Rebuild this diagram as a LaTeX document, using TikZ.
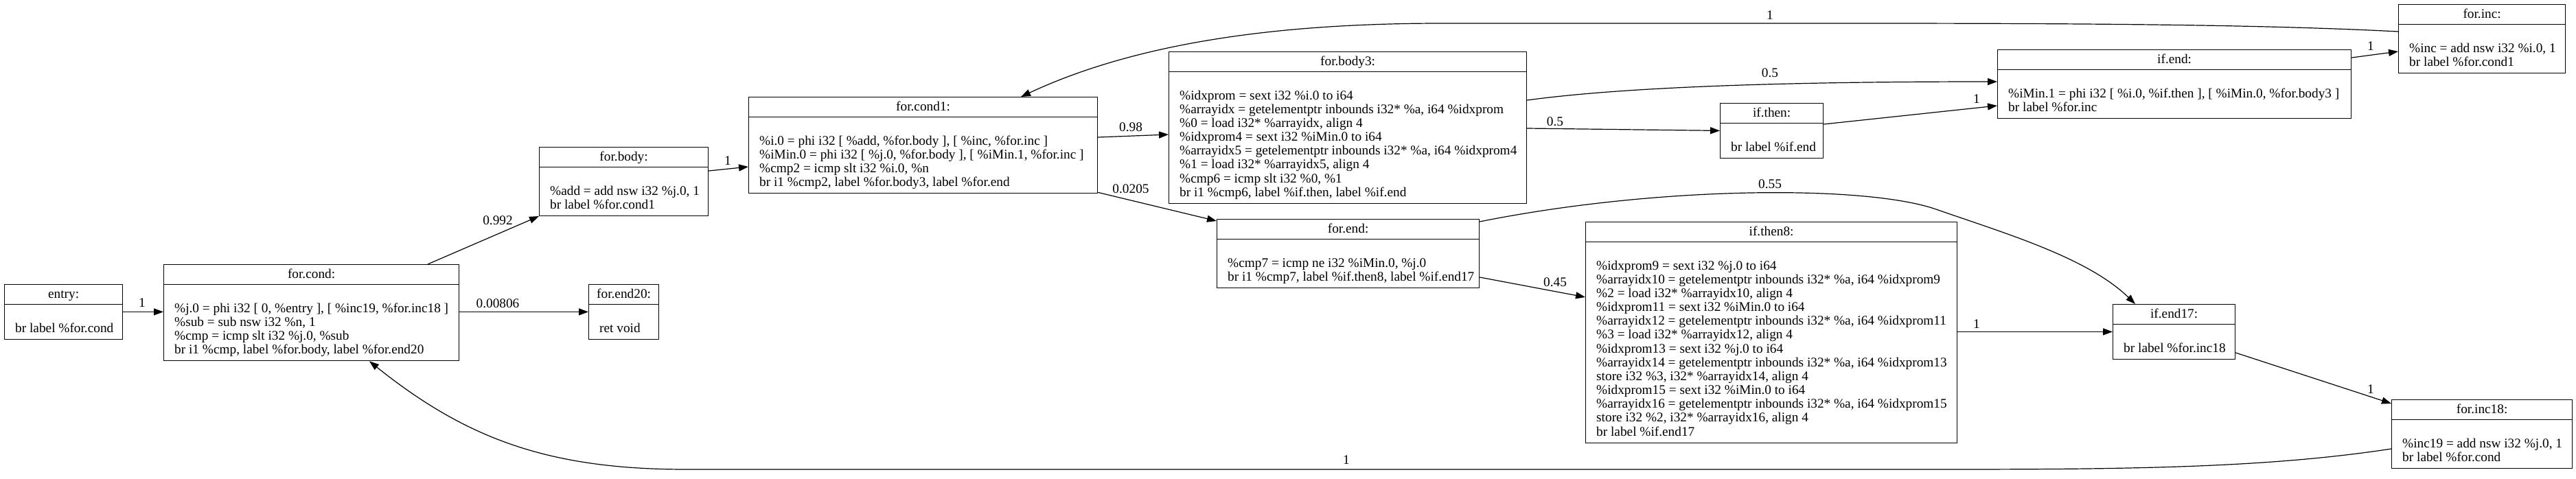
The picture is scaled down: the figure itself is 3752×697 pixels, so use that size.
\documentclass[tikz,border=0pt]{standalone}
\usepackage{fontspec}
\setmainfont{Liberation Serif}
\usetikzlibrary{arrows.meta,calc}
\newcommand\gvstrut{\vrule height 15.2pt depth 4.96pt width 0pt}
\newcommand\gvnl{\\\gvstrut}
\tikzset{
  gvfont/.style={font=\fontsize{19.3}{20.16}\selectfont},
  rec/.style={draw, line width=1.2pt, inner sep=0pt, anchor=north west},
  recline/.style={line width=1.2pt},
  hdr/.style={gvfont, inner sep=0pt, anchor=center},
  bodytxt/.style={gvfont, inner sep=0pt, anchor=north west, align=left},
  lbl/.style={gvfont, inner sep=0pt, anchor=center},
  edge/.style={line width=1.2pt, -{Triangle[length=14pt,width=10pt]}}
}
\newcommand\gvrec[7]{%
  \pgfmathsetmacro\gvh{29.76+(#5*16.8+8)*1.2}%
  \node[rec, minimum width=#4pt, minimum height=\gvh pt] (#1) at (#2,#3) {};
  \draw[recline] ($(#1.north west)+(0,29.76)$) -- ($(#1.north east)+(0,29.76)$);
  \node[hdr] at ($(#1.north)+(0,14.88)$) {\gvstrut #6};
  \node[bodytxt] at ($(#1.north west)+(16,54.72)$) {#7};
}
\begin{document}
\begin{tikzpicture}[x=1pt,y=-1pt]
\fill[white] (0,0) rectangle (3752,697);
\useasboundingbox (0,0) rectangle (3752,697);

\gvrec{entry}{6}{414}{172}{2}{entry:}{\gvstrut br label \%for.cond}
\gvrec{fcond}{238}{385}{430}{5}{for.cond:}{\gvstrut \%j.0 = phi i32 [ 0, \%entry ], [ \%inc19, \%for.inc18 ]\gvnl \%sub = sub nsw i32 \%n, 1\gvnl \%cmp = icmp slt i32 \%j.0, \%sub\gvnl br i1 \%cmp, label \%for.body, label \%for.end20}
\gvrec{fend20}{857}{414}{102}{2}{for.end20:}{\gvstrut ret void}
\gvrec{fbody}{785}{214}{246}{3}{for.body:}{\gvstrut \%add = add nsw i32 \%j.0, 1\gvnl br label \%for.cond1}
\gvrec{fcond1}{1090}{141}{508}{5}{for.cond1:}{\gvstrut \%i.0 = phi i32 [ \%add, \%for.body ], [ \%inc, \%for.inc ]\gvnl \%iMin.0 = phi i32 [ \%j.0, \%for.body ], [ \%iMin.1, \%for.inc ]\gvnl \%cmp2 = icmp slt i32 \%i.0, \%n\gvnl br i1 \%cmp2, label \%for.body3, label \%for.end}
\gvrec{fbody3}{1702}{75}{521}{9}{for.body3:}{\gvstrut \%idxprom = sext i32 \%i.0 to i64\gvnl \%arrayidx = getelementptr inbounds i32* \%a, i64 \%idxprom\gvnl \%0 = load i32* \%arrayidx, align 4\gvnl \%idxprom4 = sext i32 \%iMin.0 to i64\gvnl \%arrayidx5 = getelementptr inbounds i32* \%a, i64 \%idxprom4\gvnl \%1 = load i32* \%arrayidx5, align 4\gvnl \%cmp6 = icmp slt i32 \%0, \%1\gvnl br i1 \%cmp6, label \%if.then, label \%if.end}
\gvrec{ifthen}{2505}{150}{150}{2}{if.then:}{\gvstrut br label \%if.end}
\gvrec{ifend}{2909}{72}{515}{3}{if.end:}{\gvstrut \%iMin.1 = phi i32 [ \%i.0, \%if.then ], [ \%iMin.0, \%for.body3 ]\gvnl br label \%for.inc}
\gvrec{finc}{3493}{6}{243}{3}{for.inc:}{\gvstrut \%inc = add nsw i32 \%i.0, 1\gvnl br label \%for.cond1}
\gvrec{fend}{1772}{319}{382}{3}{for.end:}{\gvstrut \%cmp7 = icmp ne i32 \%iMin.0, \%j.0\gvnl br i1 \%cmp7, label \%if.then8, label \%if.end17}
\gvrec{ifthen8}{2309}{323}{541}{14}{if.then8:}{\gvstrut \%idxprom9 = sext i32 \%j.0 to i64\gvnl \%arrayidx10 = getelementptr inbounds i32* \%a, i64 \%idxprom9\gvnl \%2 = load i32* \%arrayidx10, align 4\gvnl \%idxprom11 = sext i32 \%iMin.0 to i64\gvnl \%arrayidx12 = getelementptr inbounds i32* \%a, i64 \%idxprom11\gvnl \%3 = load i32* \%arrayidx12, align 4\gvnl \%idxprom13 = sext i32 \%j.0 to i64\gvnl \%arrayidx14 = getelementptr inbounds i32* \%a, i64 \%idxprom13\gvnl store i32 \%3, i32* \%arrayidx14, align 4\gvnl \%idxprom15 = sext i32 \%iMin.0 to i64\gvnl \%arrayidx16 = getelementptr inbounds i32* \%a, i64 \%idxprom15\gvnl store i32 \%2, i32* \%arrayidx16, align 4\gvnl br label \%if.end17}
\gvrec{ifend17}{3077}{443}{178}{2}{if.end17:}{\gvstrut br label \%for.inc18}
\gvrec{finc18}{3483}{582}{263}{3}{for.inc18:}{\gvstrut \%inc19 = add nsw i32 \%j.0, 1\gvnl br label \%for.cond}

% edges
\draw[edge] (entry.east) -- (entry.east -| fcond.west);
\node[lbl] (l1) at (207,441) {1};
\draw[edge] ($(fcond.north west)+(385,0)$) -- (fbody.south west);
\node[lbl] (l2) at (725,321) {0.992};
\draw[edge] (fend20.west -| fcond.east) -- (fend20.west);
\node[lbl] (l3) at (725,442) {0.00806};
\draw[edge] ($(fbody.north east)+(0,35)$) -- ($(fcond1.north west)+(0,102)$);
\node[lbl] (l4) at (1060,234) {1};
\draw[edge] ($(fcond1.north east)+(0,59)$) -- ($(fbody3.north west)+(0,121)$);
\node[lbl] (l5) at (1647,185) {0.98};
\draw[edge] ($(fcond1.south east)+(0,-2)$) -- ($(fend.north west)+(0,3)$);
\node[lbl] (l6) at (1647,275) {0.0205};
\draw[edge] ($(fbody3.north east)+(0,112)$) -- (ifthen.west);
\node[lbl] (l7) at (2265,177) {0.5};
\draw[edge] ($(fbody3.north east)+(0,71)$) .. controls (2400,122) and (2700,119) .. ($(ifend.north west)+(0,47)$);
\node[lbl] (l8) at (2578,106) {0.5};
\draw[edge] ($(ifthen.north east)+(0,31)$) -- ($(ifend.north west)+(0,82)$);
\node[lbl] (l9) at (2879,144) {1};
\draw[edge] ($(ifend.north east)+(0,12)$) -- ($(finc.north west)+(0,69)$);
\node[lbl] (l10) at (3453,67) {1};
\draw[edge] ($(finc.north west)+(0,40)$) .. controls (3300,36) and (3050,34) .. (2700,34) -- (2100,34) .. controls (1850,34) and (1650,65) .. ($(fcond1.north west)+(397,0)$);
\node[lbl] (l11) at (2578,22) {1};
\draw[edge] ($(fend.north east)+(0,85)$) -- ($(ifthen8.north west)+(0,110)$);
\node[lbl] (l12) at (2265,411) {0.45};
\draw[edge] ($(fend.north east)+(0,4)$) .. controls (2420,270) and (2720,270) .. (2820,305) .. controls (2920,340) and (3040,375) .. ($(ifend17.north west)+(33,0)$);
\node[lbl] (l13) at (2578,268) {0.55};
\draw[edge] (ifend17.west -| ifthen8.east) -- (ifend17.west);
\node[lbl] (l14) at (2879,472) {1};
\draw[edge] ($(ifend17.north east)+(0,71)$) -- ($(finc18.north west)+(0,6)$);
\node[lbl] (l15) at (3453,567) {1};
\draw[edge] ($(finc18.north west)+(0,72)$) .. controls (3300,682) and (3100,684) .. (2820,684) -- (1000,684) .. controls (800,684) and (680,640) .. ($(fcond.south west)+(300,0)$);
\node[lbl] (l16) at (1961,670) {1};
\end{tikzpicture}
\end{document}
